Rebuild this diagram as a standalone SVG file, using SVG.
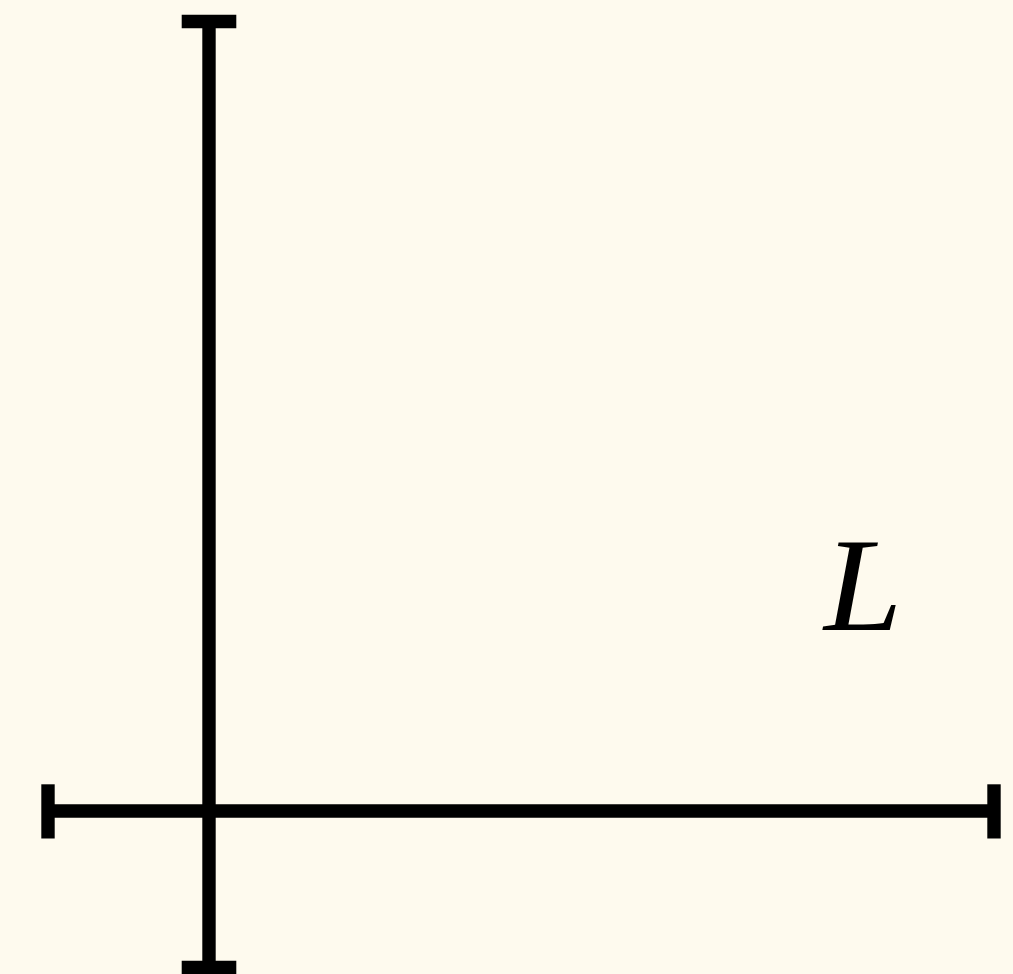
<svg xmlns="http://www.w3.org/2000/svg" width="1013" height="974" viewBox="0 0 1013 974">
<style>
.ax{stroke:#000;stroke-width:13.4;fill:none;stroke-linecap:butt}
.lbl{font-family:"Liberation Serif","Times New Roman",serif;font-style:italic;font-size:133px;fill:#000}
</style>
<rect width="1013" height="974" fill="#FEFAEE"/>
<g id="connectors">
<g id="vertical-axis">
<line class="ax" x1="209" y1="21.5" x2="209" y2="967.5"/>
<line class="ax" x1="181.7" y1="21.5" x2="236.3" y2="21.5"/>
<line class="ax" x1="181.7" y1="967.5" x2="236.3" y2="967.5"/>
</g>
<g id="horizontal-axis">
<line class="ax" x1="48" y1="811" x2="994" y2="811"/>
<line class="ax" x1="48" y1="784.3" x2="48" y2="838.5"/>
<line class="ax" x1="994" y1="784.3" x2="994" y2="838.5"/>
</g>
</g>
<g id="label-L">
<text class="lbl" x="824" y="630" transform="translate(824 630) scale(1.06 1) translate(-824 -630)">L</text>
</g>
</svg>
